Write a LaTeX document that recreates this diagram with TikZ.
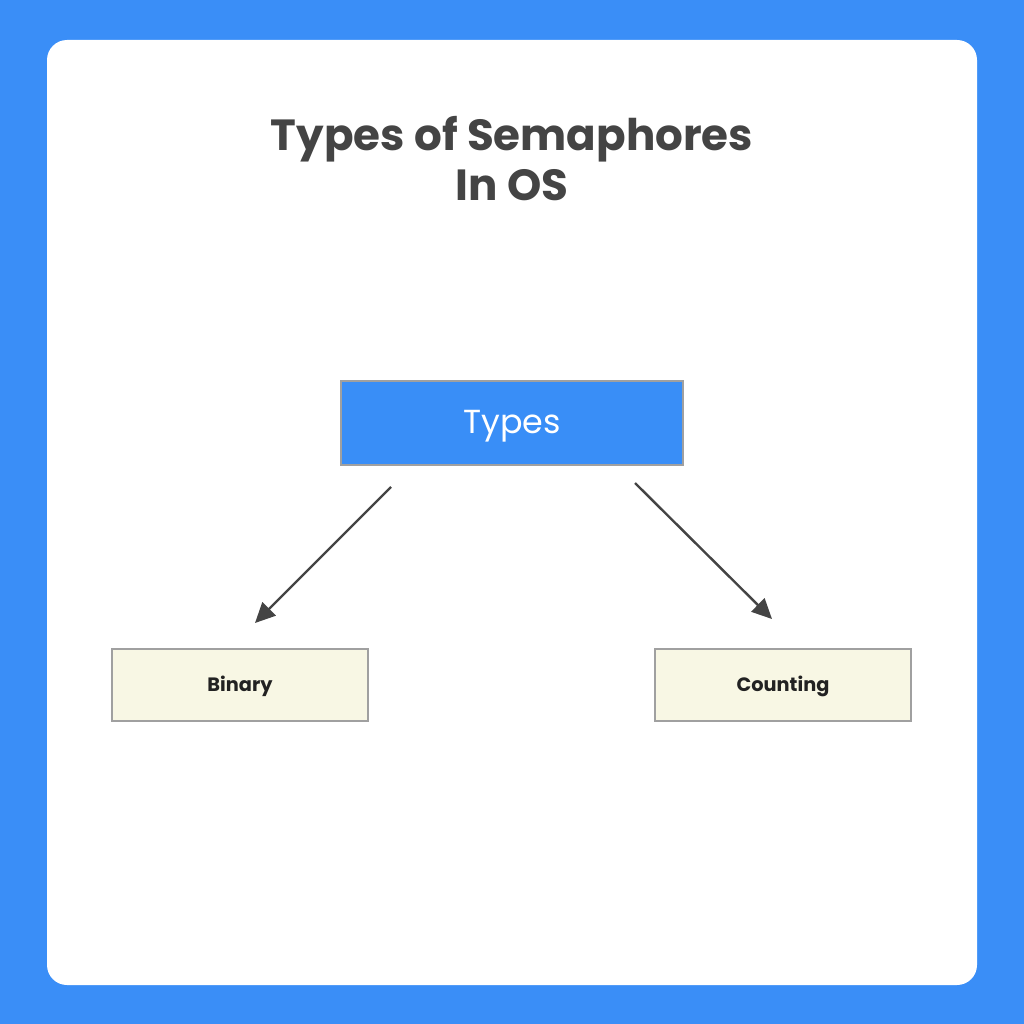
\documentclass[tikz,border=0pt]{standalone}
\usepackage{fontspec}
\setmainfont{Poppins}
\usetikzlibrary{arrows.meta}
\definecolor{bgblue}{HTML}{3A8EF7}
\definecolor{boxblue}{HTML}{398EF7}
\definecolor{cream}{HTML}{F8F7E4}
\definecolor{edge}{HTML}{A0A0A0}
\definecolor{ink}{HTML}{444444}
\definecolor{txt}{HTML}{222222}
\tikzset{
  leafbox/.style={draw=edge, line width=0.8pt, fill=cream, minimum width=192pt, minimum height=54pt, inner sep=0pt, text height=9.5pt, text depth=0pt, font=\fontsize{14.5}{16}\selectfont\bfseries, text=txt},
  rootbox/.style={draw=edge, line width=0.8pt, fill=boxblue, minimum width=256.5pt, minimum height=63pt, inner sep=0pt, text height=16pt, text depth=0pt, font=\fontsize{25}{28}\selectfont, text=white},
  conn/.style={draw=ink, line width=1.8pt, -{Triangle[length=15pt,width=14pt]}}
}
\begin{document}
\begin{tikzpicture}[x=0.75pt,y=-0.75pt]
\useasboundingbox (0,0) rectangle (1024,1024);
\fill[bgblue] (0,0) rectangle (1024,1024);
\fill[white, rounded corners=15pt] (47,40) rectangle (977,985);
\node[font=\fontsize{32.7}{37.5}\selectfont\bfseries, text=ink, align=center] (title) at (512,159) {Types of Semaphores\\In OS};
\node[rootbox] (types) at (512,423) {Types};
\node[leafbox] (binary) at (240,685) {Binary};
\node[leafbox] (counting) at (783,685) {Counting};
\coordinate (s1) at (391,487);
\coordinate (e1) at (255,623);
\coordinate (s2) at (635,483);
\coordinate (e2) at (772,619);
\draw[conn] (s1) -- (e1);
\draw[conn] (s2) -- (e2);
\end{tikzpicture}
\end{document}
